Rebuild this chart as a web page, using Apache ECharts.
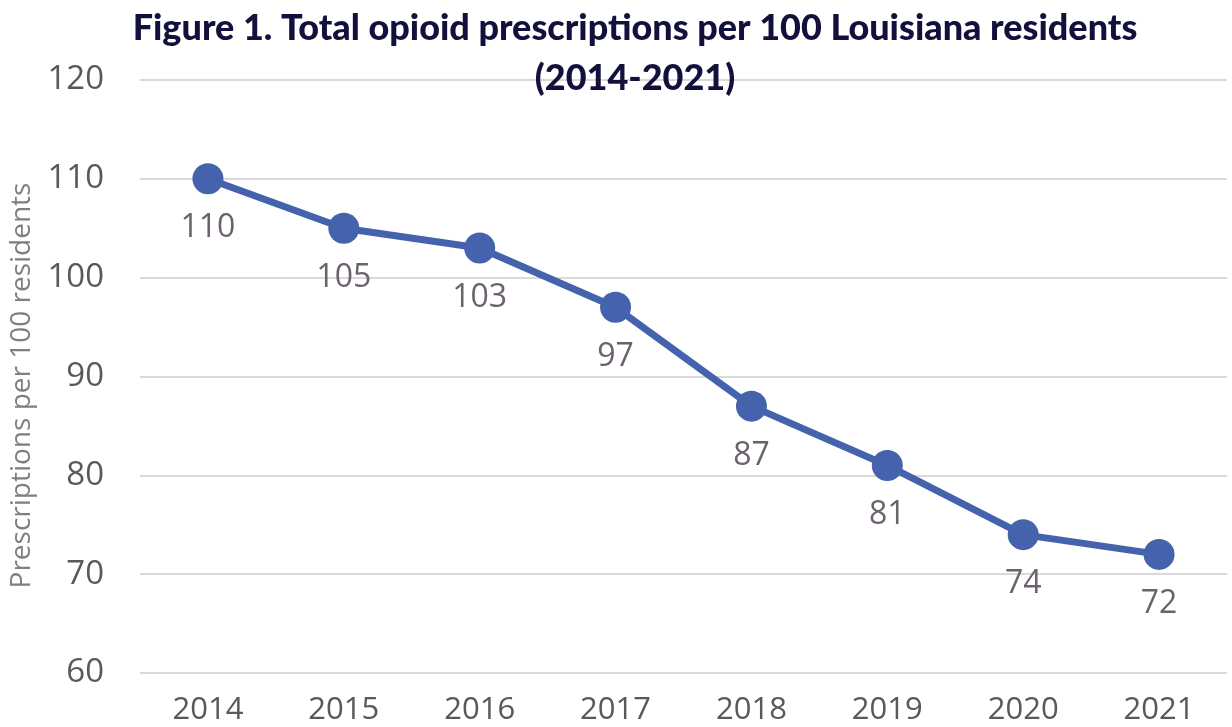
<!DOCTYPE html>
<html>
<head>
<meta charset="utf-8">
<script src="https://cdn.jsdelivr.net/npm/echarts@6/dist/echarts.min.js"></script>
<style>
    html, body { margin: 0; padding: 0; background: #fff; }
    #chart { width: 1232px; height: 727px; }
</style>
</head>
<body>
<div id="chart"></div>
<script>
var years = ['2014', '2015', '2016', '2017', '2018', '2019', '2020', '2021'];
var prescriptions = [110, 105, 103, 97, 87, 81, 74, 72];

var chart = echarts.init(document.getElementById('chart'));
chart.setOption({
    animation: false,
    title: {
        text: 'Figure 1. Total opioid prescriptions per 100 Louisiana residents\n(2014-2021)',
        left: 630,
        textAlign: 'center',
        top: -2,
        textStyle: {
            fontFamily: 'Lato',
            fontWeight: 900,
            fontSize: 36,
            lineHeight: 50,
            color: '#12113d'
        }
    },
    grid: {left: 140, right: 5, top: 80, bottom: 54},
    xAxis: {
        type: 'category',
        data: years,
        boundaryGap: true,
        axisLine: {show: false},
        axisTick: {show: false},
        axisLabel: {fontFamily: 'Open Sans', fontSize: 31, color: '#595959', margin: 22}
    },
    yAxis: {
        type: 'value',
        min: 60,
        max: 120,
        interval: 10,
        name: 'Prescriptions per 100 residents',
        nameLocation: 'middle',
        nameGap: 100,
        nameTextStyle: {fontFamily: 'Open Sans', fontSize: 28, color: '#7f7f7f', padding: [0, 18, 0, 0]},
        axisLabel: {fontFamily: 'Open Sans', fontSize: 33, color: '#595959', margin: 36},
        splitLine: {lineStyle: {color: '#d9d9d9', width: 2}}
    },
    series: [{
        type: 'line',
        data: prescriptions,
        symbol: 'circle',
        symbolSize: 31,
        lineStyle: {color: '#4562ad', width: 7},
        itemStyle: {color: '#4562ad'},
        label: {
            show: true,
            position: 'bottom',
            distance: 18,
            fontFamily: 'Open Sans',
            fontSize: 32,
            color: '#6e6070'
        }
    }]
});
</script>
</body>
</html>
